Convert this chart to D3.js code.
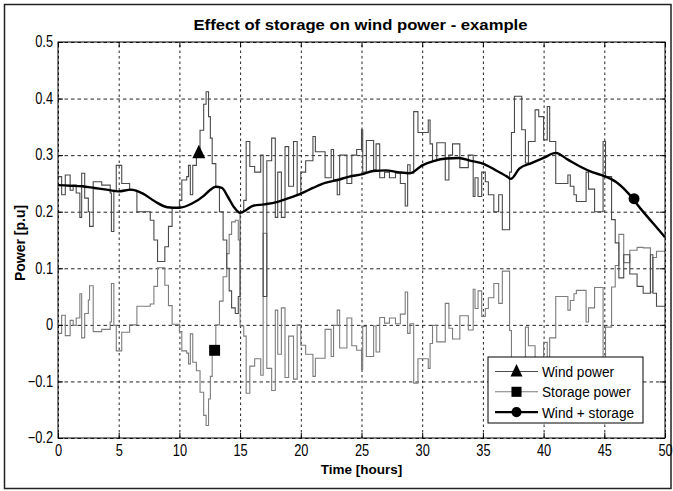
<!DOCTYPE html>
<html>
<head>
<meta charset="utf-8">
<script src="https://cdn.jsdelivr.net/npm/d3@7"></script>
<style>
  body { margin: 0; background: #fff; }
  text { font-family: 'Liberation Sans', Arial, sans-serif; fill: #000; }
</style>
</head>
<body>
<svg id="chart"></svg>
<script>
// step start times (hours) shared by wind and storage series, last entry closes the final step
const stepTimes = [
  0, 0.3, 0.6, 1.0, 1.25, 1.5, 1.8, 1.95, 2.2, 2.5,
  2.6, 2.9, 3.6, 4.3, 4.4, 4.6, 4.8, 5.25, 5.9, 6.5,
  7.6, 7.9, 8.2, 8.8, 9.1, 9.4, 10.0, 10.2, 10.6, 10.75,
  10.9, 11.1, 11.4, 11.7, 12.0, 12.2, 12.4, 12.55, 12.7, 13.0,
  13.3, 13.6, 13.9, 14.1, 14.3, 14.6, 14.85, 15.0, 15.3, 15.5,
  15.8, 16.2, 16.7, 16.9, 17.2, 17.6, 17.9, 18.1, 18.4, 18.7,
  19.0, 19.4, 19.7, 20.0, 20.4, 21.0, 21.2, 22.0, 22.5, 22.7,
  23.0, 23.2, 23.8, 24.2, 24.6, 25.0, 25.1, 25.4, 26.0, 26.2,
  26.5, 26.9, 27.3, 27.8, 28.2, 28.6, 28.8, 29.0, 29.3, 29.65,
  30.5, 30.65, 30.85, 31.2, 31.9, 32.2, 32.5, 33.1, 33.8, 34.2,
  34.35, 34.6, 34.9, 35.2, 35.45, 35.9, 36.3, 36.6, 37.2, 37.35,
  37.6, 38.2, 38.5, 38.75, 39.3, 39.6, 40.0, 40.3, 40.5, 41.0,
  42.0, 42.2, 42.5, 42.7, 43.5, 43.7, 44.2, 44.9, 45.1, 45.6,
  45.9, 46.2, 46.6, 47.1, 47.7, 48.2, 48.8, 49.0, 49.3,
  50
];

const windPower = [
  .262, .23, .265, .238, .247, .233, .19, .268, .224, .2,
  .174, .253, .247, .233, .165, .238, .282, .25, .238, .2,
  .185, .15, .112, .138, .174, .206, .22, .256, .262, .282,
  .23, .282, .3, .344, .39, .412, .368, .33, .285, .244,
  .2, .15, .1, .06, .03, .02, .05, .2, .22, .324,
  .28, .27, .3, .05, .29, .33, .19, .27, .19, .315,
  .245, .324, .23, .27, .29, .333, .306, .26, .31, .256,
  .23, .3, .25, .3, .31, .345, .27, .326, .274, .32,
  .26, .27, .26, .268, .25, .21, .283, .268, .377, .34,
  .362, .32, .29, .322, .256, .3, .32, .278, .3, .227,
  .26, .227, .27, .253, .23, .2, .23, .168, .27, .34,
  .404, .345, .286, .324, .38, .368, .327, .386, .324, .25,
  .265, .245, .23, .218, .27, .24, .2, .324, .262, .186,
  .145, .083, .124, .09, .068, .056, .124, .056, .033,
  .033
];

const storagePower = [
  -.015, .017, -.019, .008, -.001, .012, .055, -.023, .02, .044,
  .069, -.012, -.008, .005, .073, -.001, -.046, -.013, 0, .033,
  .037, .068, .101, .07, .034, .001, -.012, -.046, -.05, -.069,
  -.016, -.066, -.081, -.119, -.16, -.178, -.131, -.091, -.043, 0,
  .042, .085, .126, .16, .182, .185, .15, -.002, -.02, -.121,
  -.073, -.06, -.089, .162, -.077, -.116, .026, -.052, .03, -.093,
  -.02, -.096, 0, -.036, -.052, -.091, -.059, -.008, -.056, -.001,
  .026, -.041, .012, -.037, -.045, -.079, -.003, -.056, -.002, -.048,
  .013, .003, .012, .002, .019, .058, -.015, .002, -.103, -.06,
  -.077, -.033, -.001, -.03, .038, -.006, -.025, .016, -.009, .063,
  .029, .06, .015, .029, .048, .073, .038, .095, -.01, -.075,
  -.13, -.066, -.004, -.037, -.09, -.075, -.031, -.088, -.023, .05,
  .026, .043, .055, .061, .005, .03, .066, -.061, -.004, .067,
  .105, .16, .11, .132, .137, .136, .058, .119, .13,
  .13
];

// wind + storage (smooth)
const combinedTimes = [
  0, 1, 2, 3, 4, 5, 6, 7, 8, 9, 10, 11, 12, 12.5, 13, 13.5, 14, 14.5, 15, 15.5, 16,
  17, 18, 19, 20, 21, 22, 23, 24, 25, 26, 27, 28, 29, 30, 31, 32, 33, 34, 35, 36, 37,
  37.3, 38, 39, 40, 41, 42, 43, 44, 45, 46, 47, 48, 49, 50
];
const combinedPower = [
  .247, .246, .245, .242, .239, .236, .239, .232, .218, .208, .207, .214, .228, .238, .244, .242, .226, .208, .198, .203, .21,
  .213, .217, .224, .232, .242, .251, .256, .262, .266, .272, .273, .27, .268, .282, .29, .294, .295, .29, .285, .274, .262,
  .258, .276, .286, .295, .304, .292, .28, .27, .263, .252, .232, .205, .18, .155
];

// one marker per series (wind, storage, wind + storage)
const markerTimes = [11.6, 12.9, 47.45];
const markerValues = [0.304, -0.045, 0.223];

const seriesNames = ['Wind power', 'Storage power', 'Wind + storage'];
const xTicks = [0, 5, 10, 15, 20, 25, 30, 35, 40, 45, 50];
const yTicks = [-0.2, -0.1, 0, 0.1, 0.2, 0.3, 0.4, 0.5];

const w = 673, h = 491;
const plotLeft = 58, plotRight = 665, plotTop = 42, plotBottom = 438;

const svg = d3.select('#chart').attr('width', w).attr('height', h);

// squeeze text horizontally (the source picture is slightly stretched vertically)
function squeeze(sel, k) {
  sel.each(function () {
    const len = this.getComputedTextLength();
    d3.select(this).attr('textLength', len * k).attr('lengthAdjust', 'spacingAndGlyphs');
  });
}

svg.append('rect')
  .attr('x', 4.5).attr('y', 4.5).attr('width', 666.5).attr('height', 484)
  .attr('fill', '#fff').attr('stroke', '#222').attr('stroke-width', 1.5);

const xScale = d3.scaleLinear().domain([0, 50]).range([plotLeft, plotRight]);
const yScale = d3.scaleLinear().domain([-0.2, 0.5]).range([plotBottom, plotTop]);

// grid
svg.append('g')
  .attr('class', 'grid')
  .attr('transform', `translate(0, ${plotBottom})`)
  .call(d3.axisBottom(xScale).tickValues(xTicks).tickSize(-(plotBottom - plotTop)).tickFormat(''))
  .call(g => g.select('.domain').remove())
  .selectAll('line')
  .attr('stroke', '#222').attr('stroke-dasharray', '2.5,3');

svg.append('g')
  .attr('class', 'grid')
  .attr('transform', `translate(${plotLeft}, 0)`)
  .call(d3.axisLeft(yScale).tickValues(yTicks).tickSize(-(plotRight - plotLeft)).tickFormat(''))
  .call(g => g.select('.domain').remove())
  .selectAll('line')
  .attr('stroke', '#222').attr('stroke-dasharray', '3.5,3');

const stepLine = d3.line()
  .x(d => xScale(d[0]))
  .y(d => yScale(d[1]))
  .curve(d3.curveStepAfter);

const smoothLine = d3.line()
  .x(d => xScale(d[0]))
  .y(d => yScale(d[1]))
  .curve(d3.curveMonotoneX);

const plot = svg.append('g');

plot.append('path')
  .datum(d3.zip(stepTimes, storagePower))
  .attr('d', stepLine)
  .attr('fill', 'none').attr('stroke', '#7c7c7c').attr('stroke-width', 1.1);

plot.append('path')
  .datum(d3.zip(stepTimes, windPower))
  .attr('d', stepLine)
  .attr('fill', 'none').attr('stroke', '#4a4a4a').attr('stroke-width', 1.1);

plot.append('path')
  .datum(d3.zip(combinedTimes, combinedPower))
  .attr('d', smoothLine)
  .attr('fill', 'none').attr('stroke', '#000').attr('stroke-width', 2.4);

function drawMarker(g, i, cx, cy, s) {
  if (i === 0) {
    g.append('path')
      .attr('d', `M${cx},${cy - s * 0.62} L${cx + s * 0.5},${cy + s * 0.42} L${cx - s * 0.5},${cy + s * 0.42} Z`)
      .attr('fill', '#000');
  } else if (i === 1) {
    g.append('rect')
      .attr('x', cx - s * 0.42).attr('y', cy - s * 0.42)
      .attr('width', s * 0.84).attr('height', s * 0.84)
      .attr('fill', '#000');
  } else {
    g.append('circle')
      .attr('cx', cx).attr('cy', cy).attr('r', s * 0.42)
      .attr('fill', '#000');
  }
}

markerTimes.forEach((t, i) => drawMarker(plot, i, xScale(t), yScale(markerValues[i]), 13));

// axes box with inward ticks
svg.append('rect')
  .attr('x', plotLeft).attr('y', plotTop).attr('width', plotRight - plotLeft).attr('height', plotBottom - plotTop)
  .attr('fill', 'none').attr('stroke', '#000').attr('stroke-width', 1);

const xAxis = svg.append('g')
  .attr('class', 'axis')
  .attr('transform', `translate(0, ${plotBottom})`)
  .call(d3.axisBottom(xScale).tickValues(xTicks).tickSize(-5).tickPadding(0).tickFormat(d3.format('d')));
xAxis.select('.domain').remove();
xAxis.selectAll('text')
  .attr('y', 18).attr('dy', 0)
  .style('font-size', '16px');
squeeze(xAxis.selectAll('text'), 0.8);

const yAxis = svg.append('g')
  .attr('class', 'axis')
  .attr('transform', `translate(${plotLeft}, 0)`)
  .call(d3.axisLeft(yScale).tickValues(yTicks).tickSize(-5).tickPadding(0).tickFormat(d => d === 0 ? '0' : d3.format('.1f')(d)));
yAxis.select('.domain').remove();
yAxis.selectAll('text')
  .attr('x', -5).attr('dy', '0.3em')
  .style('font-size', '16px');
squeeze(yAxis.selectAll('text'), 0.8);

// top and right ticks
svg.append('g')
  .attr('class', 'axis')
  .attr('transform', `translate(0, ${plotTop})`)
  .call(d3.axisTop(xScale).tickValues(xTicks).tickSize(-5).tickFormat(''))
  .call(g => g.select('.domain').remove());
svg.append('g')
  .attr('class', 'axis')
  .attr('transform', `translate(${plotRight}, 0)`)
  .call(d3.axisRight(yScale).tickValues(yTicks).tickSize(-5).tickFormat(''))
  .call(g => g.select('.domain').remove());

svg.selectAll('.axis .tick line').attr('stroke', '#000');

// titles
svg.append('text')
  .attr('x', (plotLeft + plotRight) / 2 - 1).attr('y', 29.5)
  .attr('text-anchor', 'middle')
  .style('font-size', '14px').style('font-weight', 'bold')
  .attr('textLength', 334).attr('lengthAdjust', 'spacingAndGlyphs')
  .text('Effect of storage on wind power - example');

svg.append('text')
  .attr('x', (plotLeft + plotRight) / 2).attr('y', 474)
  .attr('text-anchor', 'middle')
  .style('font-size', '13.5px').style('font-weight', 'bold')
  .text('Time [hours]');

svg.append('text')
  .attr('transform', `translate(25, 243) rotate(-90)`)
  .attr('text-anchor', 'middle')
  .style('font-size', '14px').style('font-weight', 'bold')
  .text('Power [p.u]');

// legend
const legend = svg.append('g').attr('transform', 'translate(488, 357)');
legend.append('rect')
  .attr('width', 155).attr('height', 66)
  .attr('fill', '#fff').attr('stroke', '#000').attr('stroke-width', 1);

const legendColors = ['#4a4a4a', '#7c7c7c', '#000'];
const legendWidths = [1.1, 1.1, 2.2];
seriesNames.forEach((name, i) => {
  const y = 14.5 + i * 20.3;
  legend.append('line')
    .attr('x1', 7).attr('x2', 50).attr('y1', y).attr('y2', y)
    .attr('stroke', legendColors[i]).attr('stroke-width', legendWidths[i]);
  drawMarker(legend, i, 28.5, y, 12);
  const t = legend.append('text')
    .attr('x', 54).attr('y', y).attr('dy', '0.36em')
    .style('font-size', '15.5px')
    .text(name);
  squeeze(t, 0.88);
});
</script>
</body>
</html>
